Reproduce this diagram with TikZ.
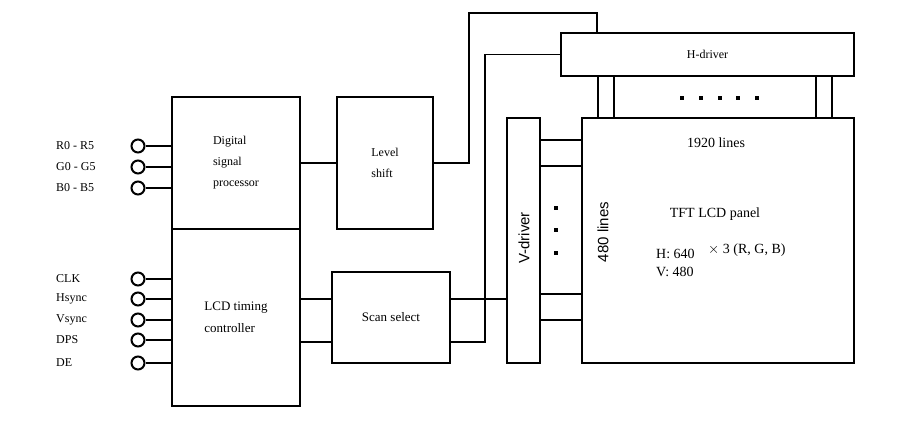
\documentclass[tikz,border=0pt]{standalone}
\usepackage{fontspec}
\setmainfont{Liberation Serif}
\newfontfamily\arialfont{Liberation Sans}

\tikzset{
  box/.style={draw, line width=2pt, inner sep=0pt, align=left,
    font=\fontsize{12}{21}\selectfont},
  wire/.style={line width=1.3pt},
  pin/.style={circle, draw, line width=2pt, minimum size=13pt, inner sep=0pt},
  sig/.style={anchor=west, inner sep=0pt, font=\fontsize{12}{14}\selectfont},
  paneltxt/.style={inner sep=0pt, font=\fontsize{14}{18}\selectfont},
  sanstxt/.style={inner sep=0pt, rotate=90, font=\arialfont\fontsize{15}{18}\selectfont},
}

\begin{document}
\begin{tikzpicture}[x=1pt, y=-1pt]
    \useasboundingbox (0,0) rectangle (918,430);

    % Blocks
    \node[box, minimum width=128pt, minimum height=132pt] (dsp) at (236,163)
        {Digital\\signal\\processor};
    \node[box, minimum width=128pt, minimum height=177pt,
          font=\fontsize{13}{22}\selectfont] (timing) at (236,317.5)
        {LCD timing\\controller};
    \node[box, minimum width=96pt, minimum height=132pt] (level) at (385,163)
        {Level\\shift};
    \node[box, minimum width=118pt, minimum height=91pt,
          font=\fontsize{13}{16}\selectfont] (scan) at (391,317.5) {Scan select};
    \node[box, minimum width=293pt, minimum height=43pt] (hdrv) at (707.5,54.5) {H-driver};
    \node[box, minimum width=33pt, minimum height=245pt] (vdrv) at (523.5,240.5) {};
    \node[box, minimum width=272pt, minimum height=245pt] (panel) at (718,240.5) {};

    % Texts on the drivers and the panel
    \node[sanstxt] (vtxt) at (524,238) {V-driver};
    \node[sanstxt] (rows) at (603,232) {480 lines};
    \node[paneltxt] (cols) at (716,143) {1920 lines};
    \node[paneltxt] (title) at (715,214) {TFT LCD panel};
    \node[paneltxt, anchor=west] (hres) at (656,254) {H: 640};
    \node[paneltxt, anchor=west] (vres) at (656,272) {V: 480};
    \node[paneltxt, anchor=west] (rgb) at (708,250) {$\times$ 3 (R, G, B)};

    % Input pins
    \foreach \pn/\py/\ptxt in {r/146/R0~-~R5, g/167/G0~-~G5, b/188/B0~-~B5}
    {
        \node[pin] (pin\pn) at (138,\py) {};
        \node[sig] (sig\pn) at (56,\py) {\ptxt};
        \draw[wire] (pin\pn.east) -- (pin\pn.east -| dsp.west);
    }
    \foreach \pn/\py/\ptxt in {clk/279/CLK, hs/299/Hsync, vs/320/Vsync, dps/340/DPS, de/363/DE}
    {
        \node[pin] (pin\pn) at (138,\py) {};
        \node[sig] (sig\pn) at (56,\py) {\ptxt};
        \draw[wire] (pin\pn.east) -- (pin\pn.east -| timing.west);
    }

    % Connections between blocks
    \coordinate (lvlup) at (469,13);
    \coordinate (hin) at (597,33);
    \draw[wire] (dsp.east) -- (level.west);
    \draw[wire] (level.east) -| (lvlup) -| (hin);
    \foreach \y in {299,342}
        \draw[wire] (timing.east |- 0,\y) -- (scan.west |- 0,\y);
    \draw[wire] (scan.east |- 0,299) -- (vdrv.west |- 0,299);
    \draw[wire] (scan.east |- 0,342) -- (485,342) |- (hdrv.west);

    % Driver outputs to the panel
    \foreach \y in {140,166,294,320}
        \draw[wire] (vdrv.east |- 0,\y) -- (panel.west |- 0,\y);
    \foreach \x in {598,614,816,832}
        \draw[wire] (hdrv.south -| \x,0) -- (panel.north -| \x,0);

    % Dots
    \foreach \x in {682,701,720,738,757}
        \fill (\x-2,96) rectangle (\x+2,100);
    \foreach \y in {208,230,253}
        \fill (554,\y-2) rectangle (558,\y+2);
\end{tikzpicture}
\end{document}
